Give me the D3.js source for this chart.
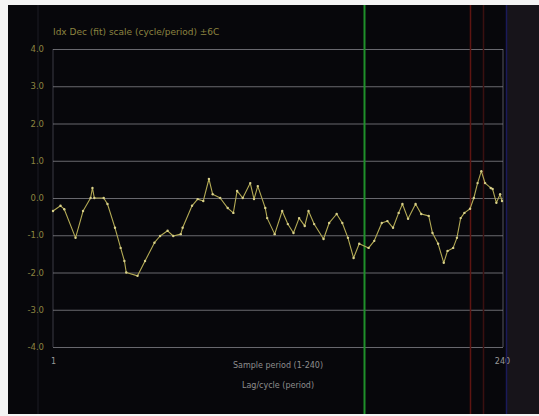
<!DOCTYPE html>
<html>
<head>
<meta charset="utf-8">
<script src="https://cdn.jsdelivr.net/npm/d3@7/dist/d3.min.js"></script>
<style>
  html, body { margin: 0; padding: 0; background: #f4f4f4; }
  svg { display: block; }
</style>
</head>
<body>
<svg id="chart" width="539" height="416"></svg>
<script>
// Traced series: sample period and index value
const periods = [1, 5, 7, 13, 17, 21, 22, 23, 28, 30, 34, 37, 39, 40, 46, 50, 55, 58, 62, 65,
  69, 70, 75, 78, 81, 84, 86, 90, 94, 97, 99, 102, 106, 108, 110, 114, 115, 119, 123, 126,
  129, 132, 135, 137, 140, 145, 148, 152, 155, 158, 161, 164, 169, 172, 176, 179, 182, 185, 187, 190,
  194, 197, 201, 203, 206, 209, 211, 214, 216, 218, 220, 223, 225, 227, 229, 231, 234, 235, 237, 239, 240];
const values = [-0.35, -0.21, -0.3, -1.07, -0.35, 0.0, 0.27, 0.0, 0.0, -0.16, -0.8, -1.34, -1.69, -2.0, -2.09, -1.69, -1.2, -1.02, -0.88, -1.02,
  -0.97, -0.8, -0.21, -0.03, -0.08, 0.51, 0.1, 0.0, -0.27, -0.4, 0.19, 0.0, 0.4, -0.03, 0.32, -0.27, -0.54, -0.97, -0.35, -0.7,
  -0.94, -0.54, -0.75, -0.35, -0.7, -1.1, -0.67, -0.43, -0.67, -1.07, -1.61, -1.23, -1.34, -1.15, -0.67, -0.62, -0.8, -0.4, -0.16, -0.56,
  -0.16, -0.43, -0.48, -0.94, -1.23, -1.74, -1.42, -1.34, -1.07, -0.54, -0.4, -0.29, 0.0, 0.4, 0.72, 0.4, 0.27, 0.24, -0.13, 0.1, -0.08];

const yTicks = [4, 3, 2, 1, 0, -1, -2, -3, -4];
const yTickLabels = ["4.0", "3.0", "2.0", "1.0", "0.0", "-1.0", "-2.0", "-3.0", "-4.0"];
const xTicks = [1, 240];
const xTickLabels = ["1", "240"];

// Period markers drawn as full-height vertical rules
const markerPeriods = [166.5, 223, 230, 242];
const markerColors = ["#1f8f2a", "#5e1512", "#3a1010", "#1a1a5a"];

const titleText = "Idx Dec (fit) scale (cycle/period) ±6C";
const footerLines = ["Sample period (1-240)", "Lag/cycle (period)"];

const svg = d3.select("#chart");
const W = 539, H = 416;
const panel = { x: 8, y: 5, w: W - 8, h: 409 };
const plot = { left: 53, right: 503, top: 49, bottom: 347 };

const x = d3.scaleLinear().domain([1, 240]).range([plot.left, plot.right - 1]);
const y = d3.scaleLinear().domain([-4, 4]).range([plot.bottom, plot.top]);

// dark panel
svg.append("rect")
  .attr("x", panel.x).attr("y", panel.y)
  .attr("width", panel.w).attr("height", panel.h)
  .attr("fill", "#07070b");

// slightly lighter strip past the last marker
svg.append("rect")
  .attr("x", x(242) + 1).attr("y", panel.y)
  .attr("width", W - x(242) - 1).attr("height", panel.h)
  .attr("fill", "#17141a");

// faint left rules
svg.append("line")
  .attr("x1", 38).attr("x2", 38).attr("y1", panel.y).attr("y2", panel.y + panel.h)
  .attr("stroke", "#1c1c24").attr("stroke-width", 1);
svg.append("line")
  .attr("x1", plot.left).attr("x2", plot.left).attr("y1", plot.top).attr("y2", plot.bottom)
  .attr("stroke", "#3a3a44").attr("stroke-width", 1);
svg.append("line")
  .attr("x1", plot.right).attr("x2", plot.right).attr("y1", plot.top).attr("y2", plot.bottom)
  .attr("stroke", "#555560").attr("stroke-width", 1);

// horizontal grid
const yAxis = d3.axisLeft(y)
  .tickValues(yTicks)
  .tickSize(-(plot.right - plot.left))
  .tickFormat((d, i) => yTickLabels[i]);
const gy = svg.append("g")
  .attr("transform", `translate(${plot.left},0)`)
  .call(yAxis);
gy.select(".domain").remove();
gy.selectAll(".tick line")
  .attr("stroke", "#8a8a90")
  .attr("stroke-width", 1)
  .attr("stroke-opacity", 0.75);
gy.selectAll(".tick text")
  .attr("x", -9)
  .attr("fill", "#8c8440")
  .attr("font-family", "DejaVu Sans, sans-serif")
  .attr("font-size", 8.5);

// x axis labels
const xAxis = d3.axisBottom(x)
  .tickValues(xTicks)
  .tickSize(0)
  .tickFormat((d, i) => xTickLabels[i]);
const gx = svg.append("g")
  .attr("transform", `translate(0,${plot.bottom})`)
  .call(xAxis);
gx.select(".domain").remove();
gx.selectAll(".tick text")
  .attr("y", 11)
  .attr("fill", "#9a9a9a")
  .attr("font-family", "DejaVu Sans, sans-serif")
  .attr("font-size", 8);

// vertical markers
svg.selectAll("line.marker")
  .data(markerPeriods)
  .join("line")
  .attr("class", "marker")
  .attr("x1", d => Math.round(x(d)) + 0.5)
  .attr("x2", d => Math.round(x(d)) + 0.5)
  .attr("y1", panel.y)
  .attr("y2", panel.y + panel.h)
  .attr("stroke", (d, i) => markerColors[i])
  .attr("stroke-width", (d, i) => i === 0 ? 2 : 1.5);

// series line
const pts = periods.map((p, i) => [p, values[i]]);
const line = d3.line().x(d => x(d[0])).y(d => y(d[1]));
svg.append("path")
  .datum(pts)
  .attr("d", line)
  .attr("fill", "none")
  .attr("stroke", "#b3aa55")
  .attr("stroke-width", 1.1)
  .attr("stroke-linejoin", "round");
svg.selectAll("circle.pt")
  .data(pts)
  .join("circle")
  .attr("class", "pt")
  .attr("cx", d => x(d[0]))
  .attr("cy", d => y(d[1]))
  .attr("r", 1.2)
  .attr("fill", "#d8d08a");

// title
svg.append("text")
  .attr("x", plot.left).attr("y", 35)
  .attr("fill", "#8c8440")
  .attr("font-family", "DejaVu Sans, sans-serif")
  .attr("font-size", 9)
  .text(titleText);

// footer text
svg.selectAll("text.footer")
  .data(footerLines)
  .join("text")
  .attr("class", "footer")
  .attr("x", 278)
  .attr("y", (d, i) => 368 + i * 20)
  .attr("text-anchor", "middle")
  .attr("fill", "#8e8e8e")
  .attr("font-family", "DejaVu Sans, sans-serif")
  .attr("font-size", 8)
  .text(d => d);
</script>
</body>
</html>
